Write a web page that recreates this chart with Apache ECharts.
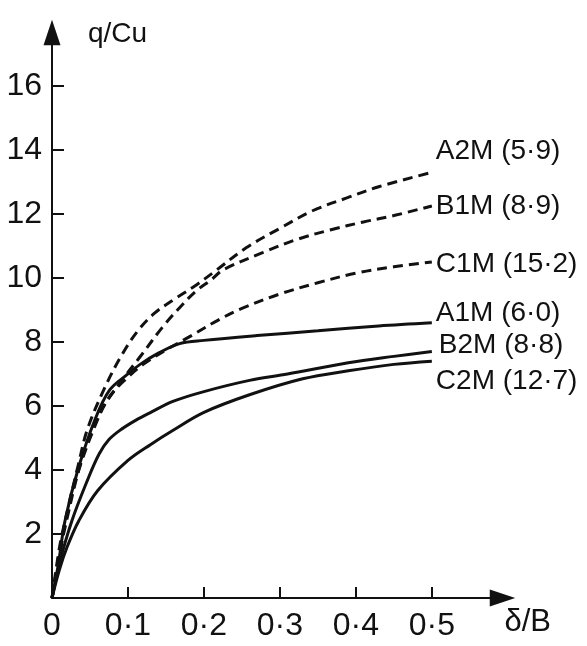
<!DOCTYPE html>
<html>
<head>
<meta charset="utf-8">
<script src="https://cdn.jsdelivr.net/npm/echarts@6/dist/echarts.min.js"></script>
<style>
  html, body { margin: 0; padding: 0; background: #ffffff; }
  #chart { width: 587px; height: 646px; }
</style>
</head>
<body>
<div id="chart"></div>
<script>
// Load–settlement curves: normalised bearing pressure q/Cu against settlement ratio δ/B
const seriesNames = ['A2M (5·9)', 'B1M (8·9)', 'C1M (15·2)', 'A1M (6·0)', 'B2M (8·8)', 'C2M (12·7)'];
const seriesDashed = [true, true, true, false, false, false];

// [δ/B, q/Cu] pairs per test
const a2m = [[0,0],[0.01,1.6],[0.02,2.7],[0.034,4.1],[0.047,5.3],[0.07,6.6],[0.092,7.6],[0.113,8.35],[0.135,8.9],[0.162,9.35],[0.188,9.75],[0.214,10.2],[0.256,10.95],[0.3,11.55],[0.343,12.1],[0.388,12.5],[0.43,12.85],[0.5,13.3]];
const b1m = [[0,0],[0.01,1.4],[0.02,2.5],[0.034,3.9],[0.047,4.9],[0.063,5.8],[0.092,6.8],[0.118,7.6],[0.145,8.45],[0.171,9.15],[0.19,9.6],[0.21,9.95],[0.225,10.25],[0.278,10.8],[0.322,11.2],[0.366,11.5],[0.41,11.75],[0.45,11.95],[0.5,12.25]];
const c1m = [[0,0],[0.008,1.0],[0.017,2.3],[0.034,3.9],[0.057,5.4],[0.076,6.3],[0.1,6.9],[0.12,7.3],[0.15,7.75],[0.18,8.15],[0.22,8.7],[0.25,9.05],[0.3,9.5],[0.35,9.85],[0.4,10.15],[0.45,10.35],[0.5,10.5]];
const a1m = [[0,0],[0.008,1.0],[0.017,2.4],[0.034,4.0],[0.057,5.6],[0.076,6.5],[0.1,7.0],[0.116,7.3],[0.14,7.65],[0.168,7.95],[0.2,8.05],[0.27,8.2],[0.35,8.35],[0.43,8.5],[0.5,8.6]];
const b2m = [[0,0],[0.01,1.1],[0.026,2.4],[0.047,3.7],[0.062,4.5],[0.075,4.95],[0.09,5.25],[0.11,5.55],[0.13,5.8],[0.16,6.15],[0.2,6.45],[0.26,6.8],[0.31,7.0],[0.39,7.35],[0.45,7.55],[0.5,7.7]];
const c2m = [[0,0],[0.01,0.9],[0.02,1.6],[0.035,2.4],[0.06,3.35],[0.1,4.3],[0.13,4.8],[0.16,5.25],[0.2,5.8],[0.26,6.35],[0.33,6.85],[0.39,7.1],[0.45,7.3],[0.5,7.4]];
const seriesData = [a2m, b1m, c1m, a1m, b2m, c2m];

// axis ticks and their printed labels
const xTickValues = [0.1, 0.2, 0.3, 0.4, 0.5];
const xLabelValues = [0, 0.1, 0.2, 0.3, 0.4, 0.5];
const xTickLabels = ['0', '0·1', '0·2', '0·3', '0·4', '0·5'];
const yTickValues = [2, 4, 6, 8, 10, 12, 14, 16];
const yTickLabels = ['2', '4', '6', '8', '10', '12', '14', '16'];

// nudges of the curve-end labels (px)
const labelOffsets = [[0, -21], [0, 0], [0, 2], [0, -9], [3, -6], [0, 20]];

const FONT = '"Liberation Sans", sans-serif';
const INK = '#111111';
// solid arrow head for the axis ends
const ARROW = 'path://M0,0 L10,30 L-10,30 Z';

const chart = echarts.init(document.getElementById('chart'), null, { renderer: 'canvas' });

const series = seriesNames.map((name, i) => ({
  name: name,
  type: 'line',
  data: seriesData[i],
  smooth: 0.35,
  showSymbol: false,
  symbol: 'none',
  clip: false,
  lineStyle: {
    color: INK,
    width: 3,
    type: seriesDashed[i] ? [10, 6] : 'solid',
    cap: 'butt'
  },
  endLabel: {
    show: true,
    formatter: p => p.seriesName,
    color: INK,
    fontFamily: FONT,
    fontSize: 28,
    distance: 4,
    offset: labelOffsets[i]
  },
  z: seriesDashed[i] ? 3 : 2
}));

chart.setOption({
  animation: false,
  backgroundColor: '#ffffff',
  grid: { left: 52, right: 84.5, top: 32.5, bottom: 48, containLabel: false },
  xAxis: {
    type: 'value',
    min: 0,
    max: 0.593,
    name: 'δ/B',
    nameLocation: 'end',
    nameGap: 2,
    nameTextStyle: {
      color: INK, fontFamily: FONT, fontSize: 31,
      align: 'left', verticalAlign: 'top', padding: [9, 0, 0, 0]
    },
    axisLine: {
      show: true,
      lineStyle: { color: INK, width: 2 },
      symbol: ['none', ARROW],
      symbolSize: [17, 31]
    },
    axisTick: {
      show: true, inside: true, length: 11,
      lineStyle: { color: INK, width: 2 },
      customValues: xTickValues
    },
    axisLabel: {
      color: INK, fontFamily: FONT, fontSize: 32, margin: 12,
      customValues: xLabelValues,
      formatter: v => xTickLabels[xLabelValues.findIndex(t => Math.abs(t - v) < 1e-6)] || ''
    },
    splitLine: { show: false }
  },
  yAxis: {
    type: 'value',
    min: 0,
    max: 17.67,
    name: 'q/Cu',
    nameLocation: 'end',
    nameGap: -2,
    nameTextStyle: {
      color: INK, fontFamily: FONT, fontSize: 28,
      align: 'left', verticalAlign: 'middle', padding: [0, 0, 0, 36]
    },
    axisLine: {
      show: true,
      lineStyle: { color: INK, width: 2 },
      symbol: ['none', ARROW],
      symbolSize: [17, 31]
    },
    axisTick: {
      show: true, inside: true, length: 12,
      lineStyle: { color: INK, width: 2 },
      customValues: yTickValues
    },
    axisLabel: {
      color: INK, fontFamily: FONT, fontSize: 32, margin: 10,
      customValues: yTickValues,
      formatter: v => yTickLabels[yTickValues.indexOf(v)] || ''
    },
    splitLine: { show: false }
  },
  series: series
});
</script>
</body>
</html>
